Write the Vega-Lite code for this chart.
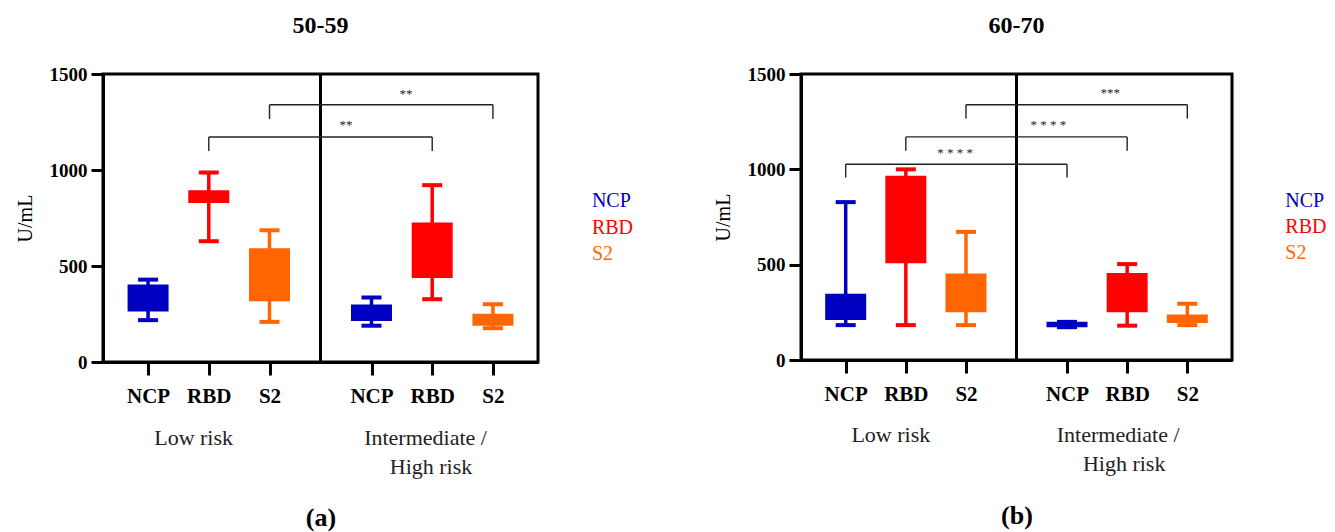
{
  "$schema": "https://vega.github.io/schema/vega-lite/v6.json",
  "padding": {"left": 13, "top": 12, "right": 0, "bottom": 0},
  "spacing": 76,
  "datasets": {
    "boxes": [
      {"panel": "50-59", "group": "Low risk", "antigen": "NCP", "col": 1, "min": 218, "q1": 263, "q3": 403, "max": 429},
      {"panel": "50-59", "group": "Low risk", "antigen": "RBD", "col": 2, "min": 629, "q1": 828, "q3": 895, "max": 987},
      {"panel": "50-59", "group": "Low risk", "antigen": "S2", "col": 3, "min": 209, "q1": 317, "q3": 592, "max": 686},
      {"panel": "50-59", "group": "Intermediate / High risk", "antigen": "NCP", "col": 4.68, "min": 189, "q1": 213, "q3": 300, "max": 336},
      {"panel": "50-59", "group": "Intermediate / High risk", "antigen": "RBD", "col": 5.68, "min": 327, "q1": 438, "q3": 726, "max": 921},
      {"panel": "50-59", "group": "Intermediate / High risk", "antigen": "S2", "col": 6.68, "min": 176, "q1": 189, "q3": 251, "max": 301},
      {"panel": "60-70", "group": "Low risk", "antigen": "NCP", "col": 1, "min": 183, "q1": 210, "q3": 348, "max": 828},
      {"panel": "60-70", "group": "Low risk", "antigen": "RBD", "col": 2, "min": 183, "q1": 508, "q3": 966, "max": 1000},
      {"panel": "60-70", "group": "Low risk", "antigen": "S2", "col": 3, "min": 183, "q1": 251, "q3": 454, "max": 672},
      {"panel": "60-70", "group": "Intermediate / High risk", "antigen": "NCP", "col": 4.68, "min": 172, "q1": 172, "q3": 200, "max": 200},
      {"panel": "60-70", "group": "Intermediate / High risk", "antigen": "RBD", "col": 5.68, "min": 180, "q1": 250, "q3": 456, "max": 503},
      {"panel": "60-70", "group": "Intermediate / High risk", "antigen": "S2", "col": 6.68, "min": 183, "q1": 194, "q3": 238, "max": 295}
    ],
    "dividers": [
      {"panel": "50-59", "col": 3.84},
      {"panel": "60-70", "col": 3.84}
    ],
    "brackets": [
      {"panel": "50-59", "from": 3, "to": 6.68, "top": 1340, "end": 1266},
      {"panel": "50-59", "from": 2, "to": 5.68, "top": 1172, "end": 1099},
      {"panel": "60-70", "from": 3, "to": 6.68, "top": 1339, "end": 1266},
      {"panel": "60-70", "from": 2, "to": 5.68, "top": 1170, "end": 1097},
      {"panel": "60-70", "from": 1, "to": 4.68, "top": 1027, "end": 957}
    ],
    "stars": [
      {"panel": "50-59", "col": 5.25, "value": 1398, "label": "**"},
      {"panel": "50-59", "col": 4.26, "value": 1233, "label": "**"},
      {"panel": "60-70", "col": 5.4, "value": 1398, "label": "***"},
      {"panel": "60-70", "col": 4.37, "value": 1230, "label": "* * * *"},
      {"panel": "60-70", "col": 2.82, "value": 1086, "label": "* * * *"}
    ],
    "groups": [
      {"panel": "50-59", "col": 1.75, "value": -395, "label": "Low risk"},
      {"panel": "50-59", "col": 5.57, "value": -395, "label": "Intermediate /"},
      {"panel": "50-59", "col": 5.66, "value": -547, "label": "High  risk"},
      {"panel": "60-70", "col": 1.75, "value": -392, "label": "Low risk"},
      {"panel": "60-70", "col": 5.53, "value": -392, "label": "Intermediate /"},
      {"panel": "60-70", "col": 5.63, "value": -547, "label": "High  risk"}
    ],
    "legend": [
      {"panel": "50-59", "col": 8.31, "value": 840, "antigen": "NCP"},
      {"panel": "50-59", "col": 8.31, "value": 700, "antigen": "RBD"},
      {"panel": "50-59", "col": 8.31, "value": 564, "antigen": "S2"},
      {"panel": "60-70", "col": 8.31, "value": 836, "antigen": "NCP"},
      {"panel": "60-70", "col": 8.31, "value": 695, "antigen": "RBD"},
      {"panel": "60-70", "col": 8.31, "value": 559, "antigen": "S2"}
    ]
  },
  "hconcat": [
    {
      "title": {"text": "50-59", "fontSize": 24, "font": "Liberation Serif", "fontWeight": "bold", "color": "black", "offset": 27},
      "width": 435,
      "height": 288,
      "layer": [
        {
          "data": {"name": "dividers"},
          "transform": [{"filter": "datum.panel === '50-59'"}],
          "mark": {"type": "rule", "strokeWidth": 3, "color": "black"},
          "encoding": {
            "x": {"field": "col", "type": "quantitative", "scale": {"domain": [0.34, 7.34], "nice": false, "zero": false},
              "axis": {"values": [1, 2, 3, 4.68, 5.68, 6.68], "labelExpr": "datum.value < 1.5 ? 'NCP' : datum.value < 2.5 ? 'RBD' : datum.value < 4 ? 'S2' : datum.value < 5 ? 'NCP' : datum.value < 6 ? 'RBD' : 'S2'", "title": "(a)", "titlePadding": 98}}
          }
        },
        {
          "data": {"name": "boxes"},
          "transform": [{"filter": "datum.panel === '50-59'"}],
          "mark": {"type": "rule", "strokeWidth": 3.5},
          "encoding": {
            "x": {"field": "col", "type": "quantitative"},
            "y": {"field": "min", "type": "quantitative", "scale": {"domain": [0, 1500], "nice": false, "zero": false},
              "axis": {"values": [0, 500, 1000, 1500], "format": "d", "title": "U/mL"}},
            "y2": {"field": "max"},
            "color": {"field": "antigen", "type": "nominal", "legend": null}
          }
        },
        {
          "data": {"name": "boxes"},
          "transform": [{"filter": "datum.panel === '50-59'"}],
          "mark": {"type": "bar", "width": 41},
          "encoding": {
            "x": {"field": "col", "type": "quantitative"},
            "y": {"field": "q1", "type": "quantitative"},
            "y2": {"field": "q3"},
            "color": {"field": "antigen", "type": "nominal", "legend": null}
          }
        },
        {
          "data": {"name": "boxes"},
          "transform": [{"filter": "datum.panel === '50-59'"}],
          "mark": {"type": "tick", "orient": "horizontal", "size": 20, "thickness": 4, "opacity": 1},
          "encoding": {
            "x": {"field": "col", "type": "quantitative"},
            "y": {"field": "min", "type": "quantitative"},
            "color": {"field": "antigen", "type": "nominal", "legend": null}
          }
        },
        {
          "data": {"name": "boxes"},
          "transform": [{"filter": "datum.panel === '50-59'"}],
          "mark": {"type": "tick", "orient": "horizontal", "size": 20, "thickness": 4, "opacity": 1},
          "encoding": {
            "x": {"field": "col", "type": "quantitative"},
            "y": {"field": "max", "type": "quantitative"},
            "color": {"field": "antigen", "type": "nominal", "legend": null}
          }
        },
        {
          "data": {"name": "brackets"},
          "transform": [{"filter": "datum.panel === '50-59'"}],
          "mark": {"type": "rule", "strokeWidth": 1.4, "color": "#222222"},
          "encoding": {
            "x": {"field": "from", "type": "quantitative"},
            "x2": {"field": "to"},
            "y": {"field": "top", "type": "quantitative"}
          }
        },
        {
          "data": {"name": "brackets"},
          "transform": [{"filter": "datum.panel === '50-59'"}],
          "mark": {"type": "rule", "strokeWidth": 1.4, "color": "#222222"},
          "encoding": {
            "x": {"field": "from", "type": "quantitative"},
            "y": {"field": "top", "type": "quantitative"},
            "y2": {"field": "end"}
          }
        },
        {
          "data": {"name": "brackets"},
          "transform": [{"filter": "datum.panel === '50-59'"}],
          "mark": {"type": "rule", "strokeWidth": 1.4, "color": "#222222"},
          "encoding": {
            "x": {"field": "to", "type": "quantitative"},
            "y": {"field": "top", "type": "quantitative"},
            "y2": {"field": "end"}
          }
        },
        {
          "data": {"name": "stars"},
          "transform": [{"filter": "datum.panel === '50-59'"}],
          "mark": {"type": "text", "font": "Liberation Serif", "fontSize": 13, "color": "#222222", "baseline": "middle"},
          "encoding": {
            "x": {"field": "col", "type": "quantitative"},
            "y": {"field": "value", "type": "quantitative"},
            "text": {"field": "label"}
          }
        },
        {
          "data": {"name": "groups"},
          "transform": [{"filter": "datum.panel === '50-59'"}],
          "mark": {"type": "text", "font": "Liberation Serif", "fontSize": 22, "color": "#222222", "baseline": "middle"},
          "encoding": {
            "x": {"field": "col", "type": "quantitative"},
            "y": {"field": "value", "type": "quantitative"},
            "text": {"field": "label"}
          }
        },
        {
          "data": {"name": "legend"},
          "transform": [{"filter": "datum.panel === '50-59'"}],
          "mark": {"type": "text", "font": "Liberation Serif", "fontSize": 20, "align": "left", "baseline": "middle"},
          "encoding": {
            "x": {"field": "col", "type": "quantitative"},
            "y": {"field": "value", "type": "quantitative"},
            "text": {"field": "antigen"},
            "color": {"field": "antigen", "type": "nominal", "legend": null}
          }
        }
      ]
    },
    {
      "title": {"text": "60-70", "fontSize": 24, "font": "Liberation Serif", "fontWeight": "bold", "color": "black", "offset": 27},
      "width": 431,
      "height": 286,
      "layer": [
        {
          "data": {"name": "dividers"},
          "transform": [{"filter": "datum.panel === '60-70'"}],
          "mark": {"type": "rule", "strokeWidth": 3, "color": "black"},
          "encoding": {
            "x": {"field": "col", "type": "quantitative", "scale": {"domain": [0.34, 7.34], "nice": false, "zero": false},
              "axis": {"values": [1, 2, 3, 4.68, 5.68, 6.68], "labelExpr": "datum.value < 1.5 ? 'NCP' : datum.value < 2.5 ? 'RBD' : datum.value < 4 ? 'S2' : datum.value < 5 ? 'NCP' : datum.value < 6 ? 'RBD' : 'S2'", "title": "(b)", "titlePadding": 98}}
          }
        },
        {
          "data": {"name": "boxes"},
          "transform": [{"filter": "datum.panel === '60-70'"}],
          "mark": {"type": "rule", "strokeWidth": 3.5},
          "encoding": {
            "x": {"field": "col", "type": "quantitative"},
            "y": {"field": "min", "type": "quantitative", "scale": {"domain": [0, 1500], "nice": false, "zero": false},
              "axis": {"values": [0, 500, 1000, 1500], "format": "d", "title": "U/mL"}},
            "y2": {"field": "max"},
            "color": {"field": "antigen", "type": "nominal", "legend": null}
          }
        },
        {
          "data": {"name": "boxes"},
          "transform": [{"filter": "datum.panel === '60-70'"}],
          "mark": {"type": "bar", "width": 41},
          "encoding": {
            "x": {"field": "col", "type": "quantitative"},
            "y": {"field": "q1", "type": "quantitative"},
            "y2": {"field": "q3"},
            "color": {"field": "antigen", "type": "nominal", "legend": null}
          }
        },
        {
          "data": {"name": "boxes"},
          "transform": [{"filter": "datum.panel === '60-70'"}],
          "mark": {"type": "tick", "orient": "horizontal", "size": 20, "thickness": 4, "opacity": 1},
          "encoding": {
            "x": {"field": "col", "type": "quantitative"},
            "y": {"field": "min", "type": "quantitative"},
            "color": {"field": "antigen", "type": "nominal", "legend": null}
          }
        },
        {
          "data": {"name": "boxes"},
          "transform": [{"filter": "datum.panel === '60-70'"}],
          "mark": {"type": "tick", "orient": "horizontal", "size": 20, "thickness": 4, "opacity": 1},
          "encoding": {
            "x": {"field": "col", "type": "quantitative"},
            "y": {"field": "max", "type": "quantitative"},
            "color": {"field": "antigen", "type": "nominal", "legend": null}
          }
        },
        {
          "data": {"name": "brackets"},
          "transform": [{"filter": "datum.panel === '60-70'"}],
          "mark": {"type": "rule", "strokeWidth": 1.4, "color": "#222222"},
          "encoding": {
            "x": {"field": "from", "type": "quantitative"},
            "x2": {"field": "to"},
            "y": {"field": "top", "type": "quantitative"}
          }
        },
        {
          "data": {"name": "brackets"},
          "transform": [{"filter": "datum.panel === '60-70'"}],
          "mark": {"type": "rule", "strokeWidth": 1.4, "color": "#222222"},
          "encoding": {
            "x": {"field": "from", "type": "quantitative"},
            "y": {"field": "top", "type": "quantitative"},
            "y2": {"field": "end"}
          }
        },
        {
          "data": {"name": "brackets"},
          "transform": [{"filter": "datum.panel === '60-70'"}],
          "mark": {"type": "rule", "strokeWidth": 1.4, "color": "#222222"},
          "encoding": {
            "x": {"field": "to", "type": "quantitative"},
            "y": {"field": "top", "type": "quantitative"},
            "y2": {"field": "end"}
          }
        },
        {
          "data": {"name": "stars"},
          "transform": [{"filter": "datum.panel === '60-70'"}],
          "mark": {"type": "text", "font": "Liberation Serif", "fontSize": 13, "color": "#222222", "baseline": "middle"},
          "encoding": {
            "x": {"field": "col", "type": "quantitative"},
            "y": {"field": "value", "type": "quantitative"},
            "text": {"field": "label"}
          }
        },
        {
          "data": {"name": "groups"},
          "transform": [{"filter": "datum.panel === '60-70'"}],
          "mark": {"type": "text", "font": "Liberation Serif", "fontSize": 22, "color": "#222222", "baseline": "middle"},
          "encoding": {
            "x": {"field": "col", "type": "quantitative"},
            "y": {"field": "value", "type": "quantitative"},
            "text": {"field": "label"}
          }
        },
        {
          "data": {"name": "legend"},
          "transform": [{"filter": "datum.panel === '60-70'"}],
          "mark": {"type": "text", "font": "Liberation Serif", "fontSize": 20, "align": "left", "baseline": "middle"},
          "encoding": {
            "x": {"field": "col", "type": "quantitative"},
            "y": {"field": "value", "type": "quantitative"},
            "text": {"field": "antigen"},
            "color": {"field": "antigen", "type": "nominal", "legend": null}
          }
        }
      ]
    }
  ],
  "resolve": {"scale": {"x": "independent", "y": "independent"}},
  "config": {
    "background": "white",
    "view": {"stroke": "black", "strokeWidth": 3},
    "range": {"category": ["#0000C0", "#FF0000", "#FF6600"]},
    "axis": {
      "grid": false,
      "domainColor": "black",
      "domainWidth": 3,
      "tickColor": "black",
      "tickWidth": 3,
      "labelFont": "Liberation Serif",
      "labelFontWeight": "bold",
      "labelColor": "black",
      "titleFont": "Liberation Serif",
      "titleColor": "black"
    },
    "axisX": {
      "tickSize": 13,
      "labelFontSize": 21,
      "labelPadding": 10,
      "labelFlush": false,
      "labelAngle": 0,
      "titleFontSize": 26,
      "titleFontWeight": "bold"
    },
    "axisY": {
      "tickSize": 12,
      "labelFontSize": 19,
      "labelPadding": 4,
      "titleFontSize": 20,
      "titleFontWeight": "normal",
      "titlePadding": 14
    }
  }
}
